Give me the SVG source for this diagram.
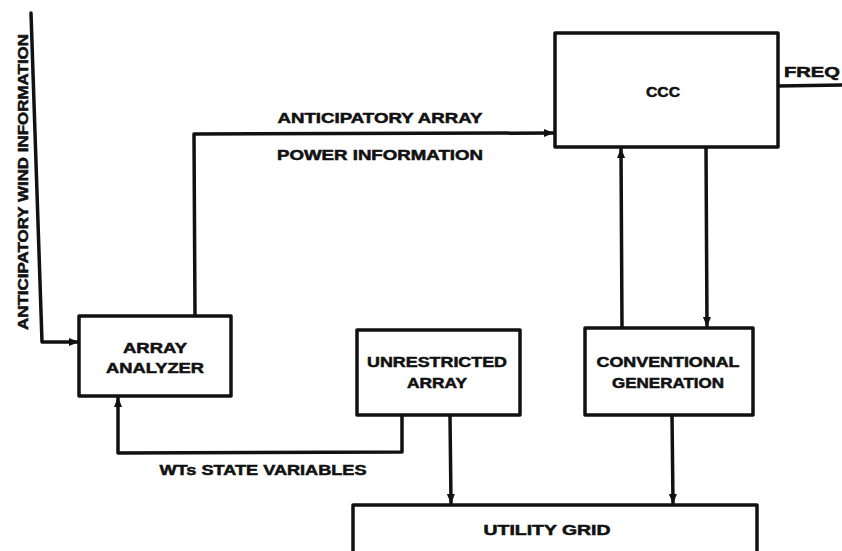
<svg xmlns="http://www.w3.org/2000/svg" width="842" height="551" viewBox="0 0 842 551">
<style>
.box{fill:#fff;stroke:#111;stroke-width:3.5;stroke-linejoin:round}
.ln{fill:none;stroke:#111;stroke-width:3.5;stroke-linejoin:round;stroke-linecap:round}
text{font-family:"Liberation Sans",Arial,sans-serif;font-weight:bold;font-size:14px;fill:#111;stroke:#111;stroke-width:0.5;text-anchor:middle;dominant-baseline:central}
</style>
<defs>
<marker id="ah" viewBox="0 0 10 10" refX="9" refY="5" markerWidth="3" markerHeight="3" orient="auto" markerUnits="strokeWidth">
<path d="M0,1 L10,5 L0,9 Z" fill="#111"/>
</marker>
</defs>
<rect width="842" height="551" fill="#fff"/>
<g id="connectors">
<path class="ln" d="M31,13 L42,342 L78,342" marker-end="url(#ah)"/>
<path class="ln" d="M195,316 L194,134 L553,133" marker-end="url(#ah)"/>
<path class="ln" d="M778,86 L842,85"/>
<path class="ln" d="M622,328 L621,149" marker-end="url(#ah)"/>
<path class="ln" d="M706,147 L707,326" marker-end="url(#ah)"/>
<path class="ln" d="M402,415 L402,452 L118,453 L118,398" marker-end="url(#ah)"/>
<path class="ln" d="M450,415 L451,503" marker-end="url(#ah)"/>
<path class="ln" d="M672,415 L673,503" marker-end="url(#ah)"/>
</g>
<g id="label-wind"><text transform="translate(23,182) rotate(-90)" textLength="296" lengthAdjust="spacingAndGlyphs">ANTICIPATORY WIND INFORMATION</text></g>
<g id="label-array-power">
<text x="380" y="118" textLength="205" lengthAdjust="spacingAndGlyphs">ANTICIPATORY ARRAY</text>
<text x="380" y="155" textLength="206" lengthAdjust="spacingAndGlyphs">POWER INFORMATION</text>
</g>
<g id="label-freq"><text x="812" y="72" textLength="56" lengthAdjust="spacingAndGlyphs">FREQ</text></g>
<g id="label-wts"><text x="263" y="470" textLength="207" lengthAdjust="spacingAndGlyphs">WTs STATE VARIABLES</text></g>
<g id="ccc">
<rect class="box" x="555" y="33" width="223" height="114"/>
<text x="663" y="92" textLength="34" lengthAdjust="spacingAndGlyphs">CCC</text>
</g>
<g id="array-analyzer">
<rect class="box" x="79" y="316" width="152" height="80"/>
<text x="155" y="348" textLength="64" lengthAdjust="spacingAndGlyphs">ARRAY</text>
<text x="155" y="368" textLength="98" lengthAdjust="spacingAndGlyphs">ANALYZER</text>
</g>
<g id="unrestricted-array">
<rect class="box" x="357" y="330" width="163" height="85"/>
<text x="437" y="362" textLength="140" lengthAdjust="spacingAndGlyphs">UNRESTRICTED</text>
<text x="437" y="383" textLength="60" lengthAdjust="spacingAndGlyphs">ARRAY</text>
</g>
<g id="conventional-generation">
<rect class="box" x="585" y="328" width="168" height="87"/>
<text x="668" y="362" textLength="143" lengthAdjust="spacingAndGlyphs">CONVENTIONAL</text>
<text x="668" y="383" textLength="112" lengthAdjust="spacingAndGlyphs">GENERATION</text>
</g>
<g id="utility-grid">
<rect class="box" x="353" y="505" width="404" height="60"/>
<text x="547" y="530" textLength="127" lengthAdjust="spacingAndGlyphs">UTILITY GRID</text>
</g>
</svg>
